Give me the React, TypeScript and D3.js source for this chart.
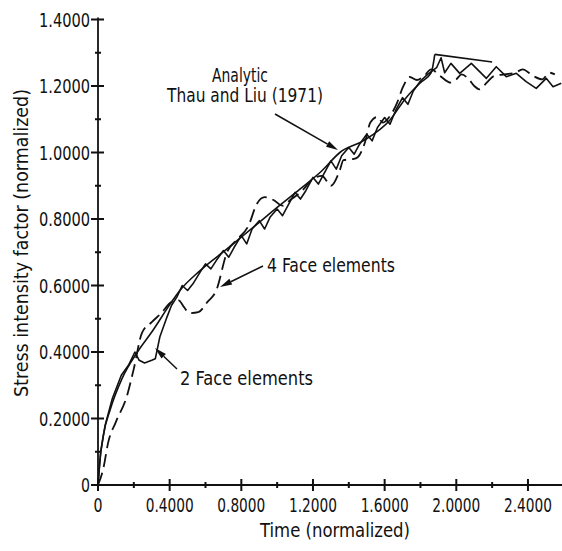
import React from "react";
import * as d3 from "d3";

const W = 562;
const H = 551;

const xTicksMajor = [0, 0.4, 0.8, 1.2, 1.6, 2.0, 2.4];
const xTickLabels = ["0", "0.4000", "0.8000", "1.2000", "1.6000", "2.0000", "2.4000"];
const xTicksMinor = [0.2, 0.6, 1.0, 1.4, 1.8, 2.2];
const yTicksMajor = [0, 0.2, 0.4, 0.6, 0.8, 1.0, 1.2, 1.4];
const yTickLabels = ["0", "0.2000", "0.4000", "0.6000", "0.8000", "1.0000", "1.2000", "1.4000"];
const yTicksMinor = [0.1, 0.3, 0.5, 0.7, 0.9, 1.1, 1.3];

// Analytic, Thau and Liu (1971)
const analyticT = [0, 0.01, 0.03, 0.067, 0.134, 0.22, 0.3, 0.41, 0.457, 0.57, 0.72, 0.9, 1.0, 1.127, 1.25, 1.35, 1.48, 1.63, 1.72, 1.8, 1.86, 1.88];
const analyticV = [0, 0.07, 0.15, 0.225, 0.32, 0.40, 0.46, 0.55, 0.585, 0.645, 0.71, 0.79, 0.835, 0.89, 0.945, 1.0, 1.035, 1.098, 1.165, 1.21, 1.24, 1.295];
const analyticTailT = [1.88, 2.2];
const analyticTailV = [1.295, 1.272];

// 2 Face elements (solid, oscillating)
const face2T = [0, 0.015, 0.04, 0.08, 0.13, 0.17, 0.206, 0.23, 0.26, 0.3, 0.32, 0.345, 0.385, 0.41, 0.44, 0.47, 0.5, 0.53, 0.57, 0.6, 0.63, 0.66, 0.7, 0.73, 0.76, 0.8, 0.83, 0.86, 0.9, 0.93, 0.96, 1.0, 1.03, 1.06, 1.1, 1.13, 1.16, 1.2, 1.23, 1.26, 1.3, 1.33, 1.36, 1.4, 1.43, 1.46, 1.5, 1.53, 1.56, 1.6, 1.63, 1.66, 1.7, 1.73, 1.76, 1.8, 1.84, 1.89, 1.915, 1.935, 1.97, 2.019, 2.084, 2.168, 2.223, 2.279, 2.335, 2.39, 2.446, 2.502, 2.54, 2.586];
const face2V = [0, 0.1, 0.18, 0.26, 0.33, 0.36, 0.40, 0.375, 0.367, 0.375, 0.38, 0.445, 0.505, 0.54, 0.565, 0.60, 0.585, 0.605, 0.64, 0.665, 0.65, 0.675, 0.705, 0.685, 0.715, 0.75, 0.725, 0.77, 0.795, 0.77, 0.805, 0.83, 0.81, 0.84, 0.88, 0.86, 0.885, 0.925, 0.905, 0.935, 0.975, 0.95, 0.99, 1.015, 0.995, 1.025, 1.055, 1.035, 1.075, 1.105, 1.085, 1.125, 1.165, 1.145, 1.185, 1.215, 1.235, 1.255, 1.285, 1.24, 1.268, 1.238, 1.268, 1.223, 1.258, 1.228, 1.238, 1.213, 1.193, 1.223, 1.198, 1.208];

// 4 Face elements (dashed)
const face4T = [0, 0.03, 0.056, 0.1, 0.16, 0.2, 0.245, 0.3, 0.35, 0.41, 0.45, 0.48, 0.51, 0.56, 0.61, 0.66, 0.72, 0.78, 0.84, 0.886, 0.93, 0.98, 1.03, 1.08, 1.13, 1.2, 1.25, 1.3, 1.35, 1.37, 1.42, 1.45, 1.49, 1.52, 1.56, 1.59, 1.63, 1.67, 1.7, 1.74, 1.78, 1.82, 1.86, 1.91, 1.97, 2.0, 2.03, 2.07, 2.1, 2.13, 2.17, 2.21, 2.27, 2.33, 2.37, 2.43, 2.48, 2.52, 2.55];
const face4V = [0, 0.05, 0.126, 0.19, 0.265, 0.35, 0.457, 0.49, 0.515, 0.55, 0.555, 0.535, 0.517, 0.52, 0.55, 0.585, 0.70, 0.74, 0.78, 0.845, 0.866, 0.857, 0.84, 0.86, 0.88, 0.92, 0.93, 0.90, 0.947, 0.977, 0.98, 0.986, 1.03, 1.09, 1.107, 1.09, 1.11, 1.15, 1.194, 1.227, 1.218, 1.23, 1.25, 1.23, 1.21, 1.22, 1.235, 1.22, 1.20, 1.19, 1.21, 1.23, 1.235, 1.24, 1.25, 1.23, 1.22, 1.24, 1.235];

const FONT = "'DejaVu Sans Condensed', 'DejaVu Sans', sans-serif";

export default function App() {
  const x = d3.scaleLinear().domain([0, 2.59]).range([98, 562]);
  const y = d3.scaleLinear().domain([0, 1.4]).range([485, 19.5]);

  const zip = (ts: number[], vs: number[]) => ts.map((t, i) => [t, vs[i]] as [number, number]);
  const smooth = d3.line<[number, number]>().x(d => x(d[0])).y(d => y(d[1])).curve(d3.curveMonotoneX);
  const straight = d3.line<[number, number]>().x(d => x(d[0])).y(d => y(d[1]));

  const ink = "#111";

  const tickPath =
    xTicksMajor.map(t => `M${x(t)},${y(0) - 6}V${y(0) + 6}`).join("") +
    xTicksMinor.map(t => `M${x(t)},${y(0) - 3}V${y(0) + 3}`).join("") +
    yTicksMajor.map(v => `M${x(0) - 7},${y(v)}H${x(0) + 6}`).join("") +
    yTicksMinor.map(v => `M${x(0) - 3},${y(v)}H${x(0) + 3}`).join("");

  const arrow = (x1: number, y1: number, x2: number, y2: number, key: string) => {
    const ang = Math.atan2(y2 - y1, x2 - x1);
    const L = 12, w = 3.2;
    const bx = x2 - L * Math.cos(ang), by = y2 - L * Math.sin(ang);
    const px = -Math.sin(ang) * w, py = Math.cos(ang) * w;
    return (
      <g key={key}>
        <line x1={x1} y1={y1} x2={bx} y2={by} stroke={ink} strokeWidth={1.5} />
        <path d={`M${x2},${y2}L${bx + px},${by + py}L${bx - px},${by - py}Z`} fill={ink} />
      </g>
    );
  };

  return (
    <svg width={W} height={H} style={{ position: "absolute", left: 0, top: 0, background: "#fff" }}>
      {/* axes */}
      <line x1={x(0)} y1={y(0)} x2={x(2.59)} y2={y(0)} stroke={ink} strokeWidth={1.8} />
      <line x1={x(0)} y1={y(0)} x2={x(0)} y2={y(1.4) - 2} stroke={ink} strokeWidth={1.8} />
      <path d={tickPath} fill="none" stroke={ink} strokeWidth={2} />
      {/* tick labels */}
      {xTicksMajor.map((t, i) => (
        <text key={"xl" + i} x={x(t)} y={y(0) + 27} textAnchor="middle" fontFamily={FONT} fontSize={20}
          fill={ink} textLength={xTickLabels[i].length > 1 ? 48 : 9} lengthAdjust="spacingAndGlyphs">
          {xTickLabels[i]}
        </text>
      ))}
      {yTicksMajor.map((v, i) => (
        <text key={"yl" + i} x={x(0) - 8} y={y(v) + 7} textAnchor="end" fontFamily={FONT} fontSize={20}
          fill={ink} textLength={yTickLabels[i].length > 1 ? 51 : 9} lengthAdjust="spacingAndGlyphs">
          {yTickLabels[i]}
        </text>
      ))}
      {/* axis titles */}
      <text x={335} y={537} textAnchor="middle" fontFamily={FONT} fontSize={19} fill={ink}
        textLength={150} lengthAdjust="spacingAndGlyphs">Time (normalized)</text>
      <text transform="translate(28,243) rotate(-90)" textAnchor="middle" fontFamily={FONT} fontSize={19} fill={ink}
        textLength={308} lengthAdjust="spacingAndGlyphs">Stress intensity factor (normalized)</text>

      {/* curves */}
      <path d={smooth(zip(analyticT, analyticV)) || ""} fill="none" stroke={ink} strokeWidth={1.6} />
      <path d={straight(zip(analyticTailT, analyticTailV)) || ""} fill="none" stroke={ink} strokeWidth={1.6} />
      <path d={straight(zip(face2T, face2V)) || ""} fill="none" stroke={ink} strokeWidth={1.6} strokeLinejoin="round" />
      <path d={smooth(zip(face4T, face4V)) || ""} fill="none" stroke={ink} strokeWidth={1.8} strokeDasharray="13 6" />

      {/* annotations */}
      <text x={240} y={82} textAnchor="middle" fontFamily={FONT} fontSize={19} fill={ink}
        textLength={56} lengthAdjust="spacingAndGlyphs">Analytic</text>
      <text x={167} y={102} fontFamily={FONT} fontSize={19} fill={ink}
        textLength={156} lengthAdjust="spacingAndGlyphs">Thau and Liu (1971)</text>
      {arrow(275, 114, 338, 150, "a1")}
      <text x={267} y={272} fontFamily={FONT} fontSize={19} fill={ink}
        textLength={128} lengthAdjust="spacingAndGlyphs">4 Face elements</text>
      {arrow(263, 266, 220, 287, "a2")}
      <text x={180} y={385} fontFamily={FONT} fontSize={19} fill={ink}
        textLength={133} lengthAdjust="spacingAndGlyphs">2 Face elements</text>
      {arrow(177, 369, 155, 348, "a3")}
    </svg>
  );
}
